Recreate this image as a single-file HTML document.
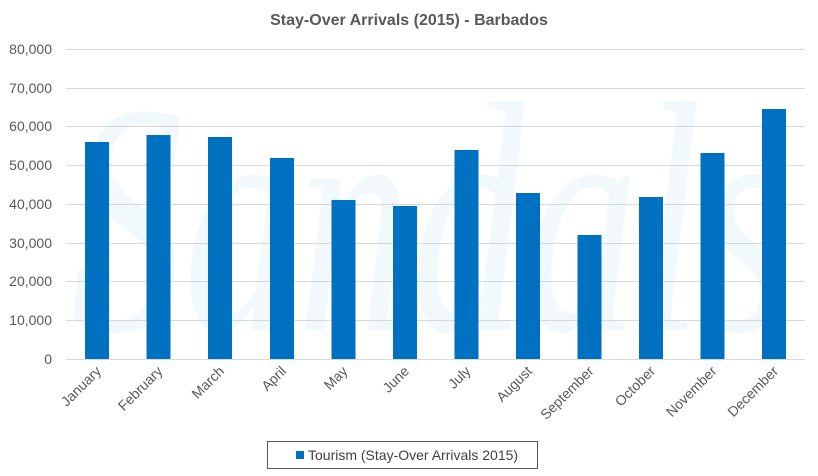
<!DOCTYPE html>
<html><head><meta charset="utf-8"><style>
body{margin:0;background:#fff;}
svg{display:block;font-family:"Liberation Sans",Arial,sans-serif;}
</style></head><body>
<svg width="818" height="476" viewBox="0 0 818 476">
<rect width="818" height="476" fill="#fff"/>
<text x="430" y="330" text-anchor="middle" font-size="330" font-style="italic" font-family="Liberation Serif,serif" fill="#f1f9fd" textLength="720" lengthAdjust="spacingAndGlyphs">Sandals</text>
<text x="409" y="25" text-anchor="middle" font-size="16" font-weight="bold" fill="#595959">Stay-Over Arrivals (2015) - Barbados</text>
<g stroke="#d9d9d9" stroke-width="1">
<line x1="66" x2="805" y1="49.5" y2="49.5"/>
<line x1="66" x2="805" y1="88.5" y2="88.5"/>
<line x1="66" x2="805" y1="126.5" y2="126.5"/>
<line x1="66" x2="805" y1="165.5" y2="165.5"/>
<line x1="66" x2="805" y1="204.5" y2="204.5"/>
<line x1="66" x2="805" y1="243.5" y2="243.5"/>
<line x1="66" x2="805" y1="281.5" y2="281.5"/>
<line x1="66" x2="805" y1="320.5" y2="320.5"/>
<line x1="66" x2="805" y1="359.5" y2="359.5"/>
</g>
<g font-size="14" fill="#595959" text-anchor="end">
<text x="52" y="54">80,000</text>
<text x="52" y="93">70,000</text>
<text x="52" y="131">60,000</text>
<text x="52" y="170">50,000</text>
<text x="52" y="209">40,000</text>
<text x="52" y="248">30,000</text>
<text x="52" y="286">20,000</text>
<text x="52" y="325">10,000</text>
<text x="52" y="364">0</text>
</g>
<g fill="#0070c0">
<rect x="85" y="142" width="24" height="217"/>
<rect x="146.5" y="135" width="24" height="224"/>
<rect x="208" y="137" width="24" height="222"/>
<rect x="270" y="158" width="24" height="201"/>
<rect x="331.5" y="200" width="24" height="159"/>
<rect x="393" y="206" width="24" height="153"/>
<rect x="454.5" y="150" width="24" height="209"/>
<rect x="516" y="193" width="24" height="166"/>
<rect x="577.5" y="235" width="24" height="124"/>
<rect x="639" y="197" width="24" height="162"/>
<rect x="700.5" y="153" width="24" height="206"/>
<rect x="762" y="109" width="24" height="250"/>
</g>
<g font-size="14" fill="#595959" text-anchor="end">
<text transform="translate(102,372) rotate(-45)">January</text>
<text transform="translate(163.5,372) rotate(-45)">February</text>
<text transform="translate(225,372) rotate(-45)">March</text>
<text transform="translate(287,372) rotate(-45)">April</text>
<text transform="translate(348.5,372) rotate(-45)">May</text>
<text transform="translate(410,372) rotate(-45)">June</text>
<text transform="translate(471.5,372) rotate(-45)">July</text>
<text transform="translate(533,372) rotate(-45)">August</text>
<text transform="translate(594.5,372) rotate(-45)">September</text>
<text transform="translate(656,372) rotate(-45)">October</text>
<text transform="translate(717.5,372) rotate(-45)">November</text>
<text transform="translate(779,372) rotate(-45)">December</text>
</g>
<rect x="267.5" y="441.5" width="270" height="27" fill="#fff" stroke="#595959"/>
<rect x="296" y="451" width="8" height="8" fill="#0070c0"/>
<text x="308" y="460" font-size="14" fill="#404040">Tourism (Stay-Over Arrivals 2015)</text>
</svg>
</body></html>
